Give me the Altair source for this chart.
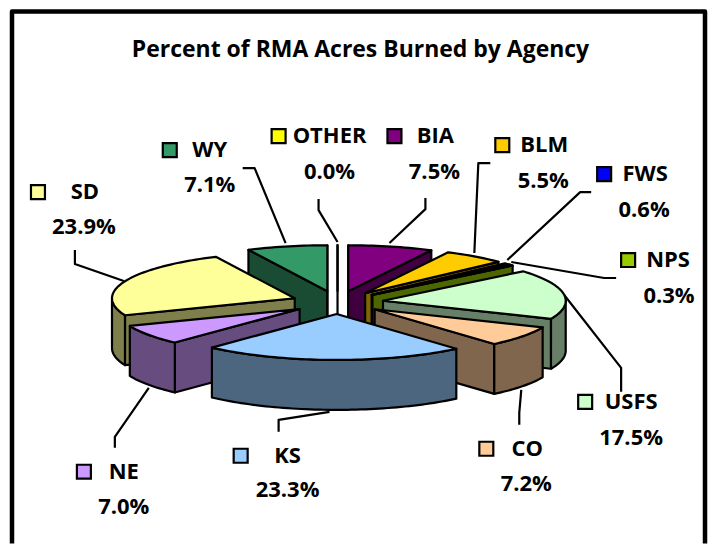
import math
import altair as alt

# ---- chart values ------------------------------------------------------
categories = ["BIA", "BLM", "FWS", "NPS", "USFS", "CO", "KS", "NE", "SD", "WY", "OTHER"]
values = [7.5, 5.5, 0.6, 0.3, 17.5, 7.2, 23.3, 7.0, 23.9, 7.1, 0.0]
colors = ["#800080", "#FFCC00", "#0000FF", "#99CC00", "#CCFFCC", "#FFCC99",
          "#99CCFF", "#CC99FF", "#FFFF99", "#339966", "#FFFF00"]
paint_order = ["OTHER", "WY", "BIA", "BLM", "FWS", "NPS", "USFS", "SD", "NE", "CO", "KS"]
title_text = "Percent of RMA Acres Burned by Agency"

# ---- layout (window pixels) ----------------------------------------------
CX, CY, A, B, EXPLODE, DEPTH = 338, 302.5, 183, 46, 46, 50
LINE = 2.2
FONT = "Open Sans"
W, H = 700, 536

label_layout = {  # key x, key y, name x, name y, pct x, pct y
    "BIA": (395, 136, 436, 136, 435, 172),
    "BLM": (503, 145, 545, 145, 544, 181),
    "FWS": (605, 174, 646, 174, 645, 210),
    "NPS": (629, 260, 669, 260, 670, 296),
    "USFS": (586, 402, 632, 402, 632, 438),
    "CO": (487, 449, 528, 449, 527, 484),
    "KS": (241, 456, 288, 456, 288, 490),
    "NE": (84, 472, 124, 472, 124, 507),
    "SD": (38, 192, 85, 192, 84, 227),
    "WY": (170, 150, 210, 150, 210, 185),
    "OTHER": (279, 136, 330, 136, 330, 172),
}
leader_layout = {
    "WY": [(243, 168), (255, 168), (286, 243)],
    "OTHER": [(319, 199), (319, 210), (338, 242)],
    "BIA": [(426, 198), (426, 209), (390, 243)],
    "BLM": [(491, 163), (479, 163), (475, 253)],
    "FWS": [(592, 192), (581, 192), (508, 260)],
    "NPS": [(617, 278), (605, 278), (512, 262)],
    "USFS": [(565, 295), (622, 368), (622, 392)],
    "CO": [(522, 390), (520, 413), (520, 425)],
    "KS": [(330, 412), (279, 420), (279, 432)],
    "NE": [(149, 388), (115, 437), (115, 448)],
    "SD": [(124, 281), (75, 264), (75, 250)],
}
frame = [(12, 544), (12, 11), (706, 11), (706, 544)]


def darken(hex_color):
    r, g, b = (int(hex_color[i:i + 2], 16) // 2 for i in (1, 3, 5))
    return f"#{r:02x}{g:02x}{b:02x}"


def rim(apex, t):
    return (apex[0] + A * math.sin(t), apex[1] - B * math.cos(t))


def down(p):
    return (p[0], p[1] + DEPTH)


def feature(points, fill):
    ring = [list(p) for p in points] + [list(points[0])]
    return {"type": "Feature", "properties": {"fill": fill},
            "geometry": {"type": "Polygon", "coordinates": [ring]}}


# angular extents, clockwise from the top, from the values
total = sum(values)
extent, acc = {}, 0.0
for name, v in zip(categories, values):
    s = acc / total * 2 * math.pi
    acc += v
    extent[name] = (s, acc / total * 2 * math.pi)
color_of = dict(zip(categories, colors))

features = []
for name in paint_order:
    s, e = extent[name]
    m = (s + e) / 2
    apex = (CX + EXPLODE * math.sin(m), CY - EXPLODE * B / A * math.cos(m))
    top, side = color_of[name], darken(color_of[name])
    # visible radial walls
    if math.sin(s) < 1e-6:
        features.append(feature([apex, rim(apex, s), down(rim(apex, s)), down(apex)], side))
    if math.sin(e) > -1e-6 and e - s > 1e-9:
        features.append(feature([apex, rim(apex, e), down(rim(apex, e)), down(apex)], side))
    # visible part of the outer wall
    lo, hi = max(s, math.pi / 2), min(e, 3 * math.pi / 2)
    if hi > lo:
        n = max(2, int((hi - lo) * 40))
        arc = [rim(apex, lo + (hi - lo) * i / n) for i in range(n + 1)]
        features.append(feature(arc + [down(p) for p in reversed(arc)], side))
    # top face
    n = max(2, int((e - s) * 40))
    features.append(feature([apex] + [rim(apex, s + (e - s) * i / n) for i in range(n + 1)], top))

x_scale = alt.Scale(domain=[8, 8 + W], range=[0, W], nice=False)
y_scale = alt.Scale(domain=[8, 8 + H], range=[0, H], nice=False)
X = lambda f: alt.X(f, type="quantitative", scale=x_scale, axis=None)
Y = lambda f: alt.Y(f, type="quantitative", scale=y_scale, axis=None)

pie = alt.Chart(alt.Data(values=features)).mark_geoshape(
    stroke="black", strokeWidth=LINE, strokeJoin="round"
).encode(fill=alt.Fill("properties.fill:N", scale=None)).project(
    type="identity", scale=1, translate=[-8, -8]
)

line_rows = []
for name, pts in leader_layout.items():
    for i, (px, py) in enumerate(pts):
        line_rows.append({"id": name, "i": i, "x": px, "y": py})
leaders = alt.Chart(alt.Data(values=line_rows)).mark_line(
    color="black", strokeWidth=LINE, strokeJoin="round"
).encode(X("x"), Y("y"), detail="id:N", order="i:Q")

frame_rows = [{"i": i, "x": p[0], "y": p[1]} for i, p in enumerate(frame)]
frame_line = alt.Chart(alt.Data(values=frame_rows)).mark_line(
    color="black", strokeWidth=4.5, strokeJoin="round"
).encode(X("x"), Y("y"), order="i:Q")

rows = []
for name, v in zip(categories, values):
    kx, ky, nx, ny, px, py = label_layout[name]
    rows.append({"name": name, "pct": f"{v:.1f}%", "kx": kx, "ky": ky, "nx": nx, "ny": ny,
                 "px": px, "py": py, "fill": color_of[name]})
base = alt.Chart(alt.Data(values=rows))
keys = base.mark_square(size=196, opacity=1, stroke="black", strokeWidth=2.2).encode(
    X("kx"), Y("ky"), fill=alt.Fill("fill:N", scale=None))
names = base.mark_text(font=FONT, fontWeight="bold", fontSize=22, color="black").encode(
    X("nx"), Y("ny"), text="name:N")
pcts = base.mark_text(font=FONT, fontWeight="bold", fontSize=22, color="black").encode(
    X("px"), Y("py"), text="pct:N")
title = alt.Chart(alt.Data(values=[{"t": title_text, "x": 361, "y": 50}])).mark_text(
    font=FONT, fontWeight="bold", fontSize=23, color="black"
).encode(X("x"), Y("y"), text="t:N")

chart = alt.layer(frame_line, leaders, pie, keys, names, pcts, title).properties(
    width=W, height=H, padding=0, background="white"
).configure_view(stroke=None)

chart.save("out.html", embed_options={"renderer": "svg", "actions": False})
